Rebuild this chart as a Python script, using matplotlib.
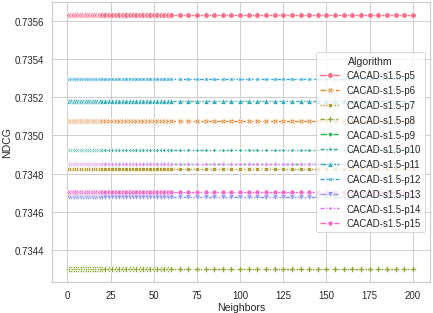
import matplotlib

matplotlib.use("Agg")
import matplotlib.pyplot as plt
import numpy as np
import pandas as pd
import seaborn as sns

# neighbor settings evaluated (dense at the start, sparser later)
neighbors = list(range(1, 20)) + list(range(20, 60, 2)) + list(range(60, 201, 5))

algorithms = [f"CACAD-s1.5-p{p}" for p in range(5, 16)]
# NDCG is flat across neighbors for every variant
ndcg = [0.735630, 0.735078, 0.734827, 0.734301, 0.734850, 0.734926,
        0.735181, 0.735297, 0.734676, 0.734850, 0.734703]

rows = []
for name, val in zip(algorithms, ndcg):
    for n in neighbors:
        rows.append({"Neighbors": n, "NDCG": val, "Algorithm": name})
df = pd.DataFrame(rows)

sns.set_theme(style="whitegrid", font_scale=0.93)
plt.rcParams["font.family"] = ["Liberation Sans", "DejaVu Sans"]
plt.rcParams["xtick.major.pad"] = 2.5
plt.rcParams["ytick.major.pad"] = 2.5
plt.rcParams["axes.labelpad"] = 2.5

fig, ax = plt.subplots(figsize=(6.4, 4.64), dpi=67.66)
sns.lineplot(data=df, x="Neighbors", y="NDCG", hue="Algorithm", style="Algorithm",
             markers=True, hue_order=algorithms, style_order=algorithms, ax=ax)
ax.yaxis.set_major_formatter(matplotlib.ticker.FormatStrFormatter("%.4f"))
ax.legend(title="Algorithm", loc="center right")
fig.subplots_adjust(left=0.12, right=0.993, top=0.99, bottom=0.099)
fig.savefig("out.png", dpi=67.66)
